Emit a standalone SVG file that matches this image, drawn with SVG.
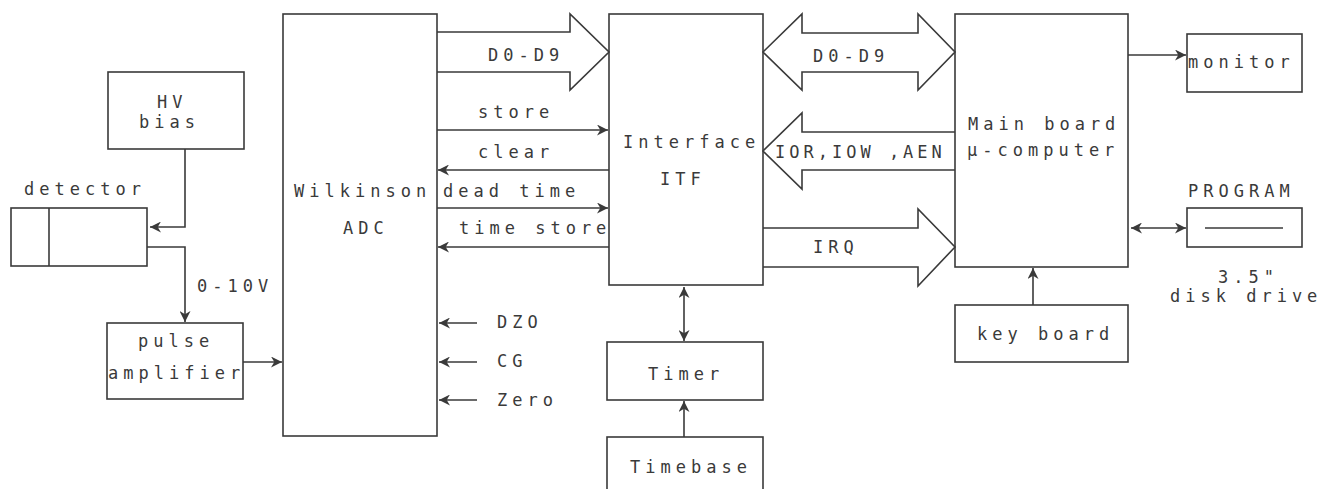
<svg xmlns="http://www.w3.org/2000/svg" width="1333" height="489" viewBox="0 0 1333 489">
<style>
.box{fill:none;stroke:#3a3a3a;stroke-width:1.6}
.ln{fill:none;stroke:#3a3a3a;stroke-width:1.6}
.bus{fill:none;stroke:#3a3a3a;stroke-width:1.6;stroke-linejoin:miter}
text{font-family:"DejaVu Sans Mono","Liberation Mono",monospace;font-size:17px;letter-spacing:5px;fill:#3a3a3a}
</style>
<defs>
<marker id="ah" markerUnits="userSpaceOnUse" markerWidth="11" markerHeight="11" refX="10" refY="5" orient="auto-start-reverse" viewBox="0 0 10 10">
<path d="M0,0 L10,5 L0,10 L3,5 z" fill="#3a3a3a"/>
</marker>
</defs>
<rect width="1333" height="489" fill="#ffffff"/>

<g id="hv-bias"><rect class="box" x="108" y="72" width="136" height="77"/><text x="157" y="108">HV</text><text x="139" y="128">bias</text></g>
<g id="detector"><text x="24" y="195">detector</text><rect class="box" x="11" y="208" width="136" height="58"/><line class="ln" x1="49" y1="208" x2="49" y2="266"/></g>
<g id="pulse-amplifier"><rect class="box" x="107" y="323" width="136" height="76"/><text x="138" y="347">pulse</text><text x="108" y="379">amplifier</text></g>
<g id="adc"><rect class="box" x="283" y="14" width="154" height="422"/><text x="294" y="197">Wilkinson</text><text x="343" y="234">ADC</text></g>
<g id="interface"><rect class="box" x="609" y="14" width="154" height="271"/><text x="623" y="148">Interface</text><text x="660" y="185">ITF</text></g>
<g id="main-board"><rect class="box" x="955" y="14" width="173" height="253"/><text x="968" y="130">Main board</text><text x="967" y="156">μ-computer</text></g>
<g id="monitor"><rect class="box" x="1187" y="34" width="115" height="58"/><text x="1188" y="68">monitor</text></g>
<g id="disk-drive"><text x="1188" y="197">PROGRAM</text><rect class="box" x="1187" y="208" width="115" height="39"/><line class="ln" x1="1205" y1="228" x2="1283" y2="228"/><text x="1218" y="283">3.5"</text><text x="1170" y="302">disk drive</text></g>
<g id="keyboard"><rect class="box" x="955" y="305" width="173" height="57"/><text x="977" y="340">key board</text></g>
<g id="timer"><rect class="box" x="607" y="342" width="156" height="58"/><text x="648" y="380">Timer</text></g>
<g id="timebase"><rect class="box" x="607" y="437" width="156" height="70"/><text x="630" y="473">Timebase</text></g>

<g id="connectors">
<path class="ln" d="M185,149 V227 H150" marker-end="url(#ah)"/>
<path class="ln" d="M147,247 H185 V322" marker-end="url(#ah)"/>
<text x="197" y="292">0-10V</text>
<path class="ln" d="M243,362 H282" marker-end="url(#ah)"/>

<polyline class="bus" points="437,32 570,32 570,14 609,52 570,90 570,72 437,72"/>
<text x="488" y="61">D0-D9</text>
<path class="ln" d="M437,130 H608" marker-end="url(#ah)"/>
<text x="478" y="118">store</text>
<path class="ln" d="M609,170 H438" marker-end="url(#ah)"/>
<text x="478" y="158">clear</text>
<path class="ln" d="M437,208 H608" marker-end="url(#ah)"/>
<text x="443" y="197">dead time</text>
<path class="ln" d="M609,247 H438" marker-end="url(#ah)"/>
<text x="459" y="234">time store</text>

<path class="ln" d="M477,323 H439" marker-end="url(#ah)"/>
<text x="497" y="328">DZO</text>
<path class="ln" d="M477,362 H439" marker-end="url(#ah)"/>
<text x="497" y="367">CG</text>
<path class="ln" d="M477,400 H439" marker-end="url(#ah)"/>
<text x="497" y="406">Zero</text>

<polygon class="bus" points="763,52 802,14 802,33 918,33 918,14 955,52 918,90 918,72 802,72 802,90"/>
<text x="813" y="62">D0-D9</text>
<polyline class="bus" points="955,132 802,132 802,113 763,151 802,189 802,170 955,170"/>
<text x="775" y="158" style="letter-spacing:4px">IOR,IOW ,AEN</text>
<polyline class="bus" points="763,228 918,228 918,209 955,247 918,286 918,267 763,267"/>
<text x="813" y="253">IRQ</text>

<path class="ln" d="M1128,55 H1186" marker-end="url(#ah)"/>
<path class="ln" d="M1131,228 H1186" marker-start="url(#ah)" marker-end="url(#ah)"/>
<path class="ln" d="M1033,305 V268" marker-end="url(#ah)"/>
<path class="ln" d="M684,287 V341" marker-start="url(#ah)" marker-end="url(#ah)"/>
<path class="ln" d="M684,437 V401" marker-end="url(#ah)"/>
</g>
</svg>
